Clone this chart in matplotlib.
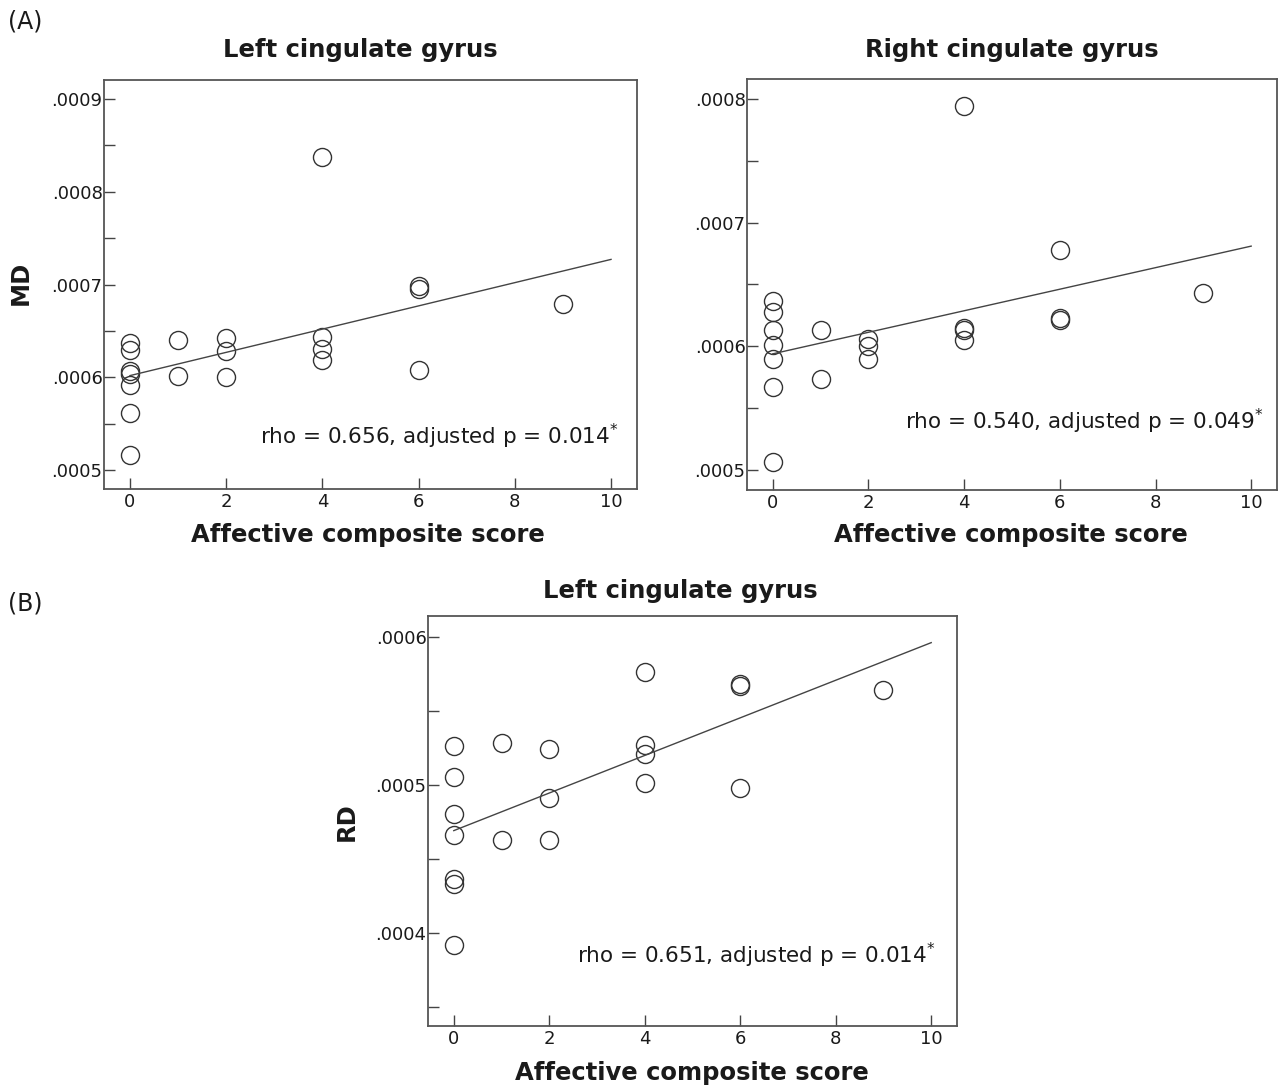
import numpy as np
import matplotlib
matplotlib.use("Agg")
import matplotlib.pyplot as plt
from matplotlib.ticker import FixedLocator, FuncFormatter

plt.rcParams['font.family'] = ['DejaVu Sans']
plt.rcParams['mathtext.fontset'] = 'dejavusans'

# ---------------- data ----------------
score = [0, 0, 0, 0, 0, 0, 0, 1, 1, 2, 2, 2, 4, 4, 4, 4, 6, 6, 6, 9]

md_left = [0.000637, 0.000629, 0.000607, 0.000604, 0.000592, 0.000562, 0.000517,
           0.000640, 0.000602, 0.000642, 0.000628, 0.000600,
           0.000837, 0.000644, 0.000631, 0.000619,
           0.000698, 0.000695, 0.000608, 0.000679]
md_left_fit = [0.000602, 0.000727]   # fitted line at x=0 and x=10

md_right = [0.000637, 0.000628, 0.000613, 0.000601, 0.000590, 0.000567, 0.000507,
            0.000613, 0.000574, 0.000606, 0.000600, 0.000590,
            0.000794, 0.000615, 0.000613, 0.000605,
            0.000678, 0.000623, 0.000621, 0.000643]
md_right_fit = [0.000594, 0.000681]

rd_left = [0.000526, 0.000505, 0.000480, 0.000466, 0.000436, 0.000433, 0.000392,
           0.000528, 0.000463, 0.000524, 0.000491, 0.000463,
           0.000576, 0.000527, 0.000521, 0.000501,
           0.000568, 0.000567, 0.000498, 0.000564]
rd_left_fit = [0.000469, 0.000596]
fit_x = [0, 10]

xticks = [0, 2, 4, 6, 8, 10]
md_left_yticks = [0.0005, 0.0006, 0.0007, 0.0008, 0.0009]
md_right_yticks = [0.0005, 0.0006, 0.0007, 0.0008]
rd_yticks = [0.0004, 0.0005, 0.0006]

titles = ["Left cingulate gyrus", "Right cingulate gyrus", "Left cingulate gyrus"]
xlabel = "Affective composite score"
annots = ["rho = 0.656, adjusted p = 0.014$^{*}$",
          "rho = 0.540, adjusted p = 0.049$^{*}$",
          "rho = 0.651, adjusted p = 0.014$^{*}$"]

# ---------------- figure ----------------
W, H = 1278, 1087
fig = plt.figure(figsize=(W / 100, H / 100), dpi=100)
fig.patch.set_facecolor('white')

def rect(l, r, t, b):
    return [l / W, 1 - b / H, (r - l) / W, (b - t) / H]

def fx(px):
    return px / W

def fy(py):
    return 1 - py / H

TXT = '#1a1a1a'
EDGE = '#444444'

def make_panel(r, y, fit, yticks, ylim):
    ax = fig.add_axes(r)
    ax.plot(score, y, linestyle='none', marker='o', markersize=13,
            markerfacecolor='none', markeredgecolor='#333333', markeredgewidth=1.0)
    ax.plot(fit_x, fit, color='#444444', linewidth=1.0)
    ax.set_xlim(-0.54, 10.54)
    ax.set_ylim(*ylim)
    ax.xaxis.set_major_locator(FixedLocator(xticks))
    ax.yaxis.set_major_locator(FixedLocator(yticks))
    minors = [v + 0.00005 for v in yticks] + [yticks[0] - 0.00005]
    minors = [m for m in minors if ylim[0] < m < ylim[1]]
    ax.yaxis.set_minor_locator(FixedLocator(minors))
    ax.yaxis.set_major_formatter(FuncFormatter(lambda v, p: f"{v:.4f}"[1:]))
    ax.tick_params(axis='both', which='both', direction='in', length=8,
                   width=1.0, color=EDGE, labelsize=13, labelcolor=TXT)
    ax.tick_params(axis='y', pad=1)
    ax.tick_params(axis='x', pad=3)
    for s in ax.spines.values():
        s.set_color('#555555')
        s.set_linewidth(1.3)
    return ax

ax1 = make_panel(rect(104, 637, 80, 489), md_left, md_left_fit, md_left_yticks, (0.00048, 0.00092))
ax2 = make_panel(rect(747, 1277, 79, 490), md_right, md_right_fit, md_right_yticks, (0.000484, 0.000816))
ax3 = make_panel(rect(428, 957, 616, 1026), rd_left, rd_left_fit, rd_yticks, (0.000337, 0.000614))

# titles
tkw = dict(fontsize=17.5, fontweight='bold', color=TXT, ha='center', va='center')
fig.text(fx(360), fy(50), titles[0], **tkw)
fig.text(fx(1012), fy(50), titles[1], **tkw)
fig.text(fx(680), fy(591), titles[2], **tkw)

# x labels
fig.text(fx(368), fy(535), xlabel, **tkw)
fig.text(fx(1011), fy(535), xlabel, **tkw)
fig.text(fx(692), fy(1073), xlabel, **tkw)

# y labels
fig.text(fx(21), fy(283), "MD", rotation=90, **tkw)
fig.text(fx(347), fy(822), "RD", rotation=90, **tkw)

# annotations
akw = dict(fontsize=15.5, color=TXT, ha='right', va='center')
fig.text(fx(619), fy(436), annots[0], **akw)
fig.text(fx(1264), fy(421), annots[1], **akw)
fig.text(fx(936), fy(955), annots[2], **akw)

# panel letters
lkw = dict(fontsize=17, color=TXT, ha='left', va='center')
fig.text(fx(8), fy(22), "(A)", **lkw)
fig.text(fx(8), fy(603), "(B)", **lkw)

fig.savefig("out.png", dpi=100, facecolor='white')
